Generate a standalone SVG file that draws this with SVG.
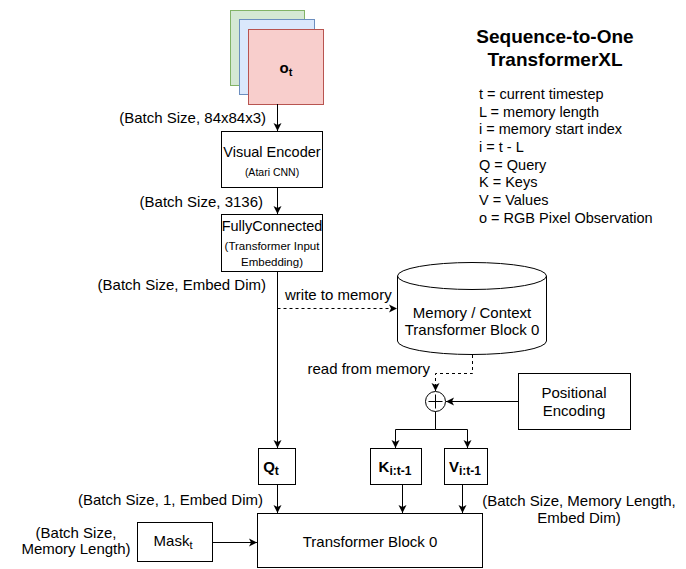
<svg xmlns="http://www.w3.org/2000/svg" width="686" height="569" viewBox="0 0 686 569">
<defs>
<marker id="arr" markerWidth="10" markerHeight="10" refX="8" refY="5" orient="auto" markerUnits="userSpaceOnUse">
<path d="M0,1 L8,5 L0,9 L2,5 Z" fill="#000"/>
</marker>
<style>
text{font-family:"Liberation Sans",Arial,sans-serif;fill:#000}
.box{fill:#fff;stroke:#000;stroke-width:1}
.t14{font-size:15px}
.tl{font-size:14.5px}
.t10{font-size:11.5px}
.t9{font-size:10.5px}
.b{font-weight:bold}
.mid{text-anchor:middle}
.end{text-anchor:end}
.line{fill:none;stroke:#000;stroke-width:1}
.dash{fill:none;stroke:#000;stroke-width:1;stroke-dasharray:3 3}
</style>
</defs>
<rect width="686" height="569" fill="#fff"/>

<g id="observation">
<rect x="230.5" y="10.5" width="74" height="75" fill="#d5e8d4" stroke="#82b366"/>
<rect x="239.5" y="19.5" width="75" height="75" fill="#dae8fc" stroke="#6c8ebf"/>
<rect x="248.5" y="29.5" width="75" height="75" fill="#f8cecc" stroke="#b85450"/>
<text x="286" y="73" class="t14 b mid">o<tspan font-size="11" dy="3">t</tspan></text>
</g>

<g id="visual-encoder">
<rect x="221.5" y="131.5" width="101" height="56" class="box"/>
<text x="272" y="157" class="tl mid">Visual Encoder</text>
<text x="272" y="176" class="t9 mid">(Atari CNN)</text>
</g>

<g id="fully-connected">
<rect x="221.5" y="214.5" width="101" height="57" class="box"/>
<text x="272" y="231" class="tl mid">FullyConnected</text>
<text x="272" y="250" class="t10 mid">(Transformer Input</text>
<text x="272" y="266" class="t10 mid">Embedding)</text>
</g>

<g id="memory">
<path d="M397.5,276 A74.5,13.5 0 0 1 546.5,276 L546.5,341 A74.5,13.5 0 0 1 397.5,341 Z" class="box"/>
<path d="M397.5,276 A74.5,13.5 0 0 0 546.5,276" class="line"/>
<text x="472" y="318" class="t14 mid">Memory / Context</text>
<text x="472" y="335" class="t14 mid">Transformer Block 0</text>
</g>

<g id="plus">
<circle cx="435.5" cy="401.5" r="10" class="box"/>
<path d="M428.5,401.5 H442.5 M435.5,394.5 V408.5" class="line"/>
</g>

<g id="positional-encoding">
<rect x="518.5" y="373.5" width="112" height="56" class="box"/>
<text x="574" y="398" class="t14 mid">Positional</text>
<text x="574" y="416" class="t14 mid">Encoding</text>
</g>

<g id="query">
<rect x="258.5" y="448.5" width="37" height="36" class="box"/>
<text x="271" y="472" class="t14 b mid">Q<tspan font-size="12" dy="3">t</tspan></text>
</g>

<g id="keys">
<rect x="370.5" y="448.5" width="51" height="36" class="box"/>
<text x="395" y="472" class="t14 b mid">K<tspan font-size="12" dy="3">i:t-1</tspan></text>
</g>

<g id="values">
<rect x="444.5" y="448.5" width="43" height="36" class="box"/>
<text x="465" y="472" class="t14 b mid">V<tspan font-size="12" dy="3">i:t-1</tspan></text>
</g>

<g id="mask">
<rect x="137.5" y="522.5" width="75" height="39" class="box"/>
<text x="173" y="546" class="t14 mid">Mask<tspan font-size="11" dy="3">t</tspan></text>
</g>

<g id="transformer-block">
<rect x="257.5" y="513.5" width="225" height="54" class="box"/>
<text x="370" y="547" class="t14 mid">Transformer Block 0</text>
</g>

<g id="connectors">
<path d="M277.5,104 V131" class="line" marker-end="url(#arr)"/>
<path d="M277.5,188 V214" class="line" marker-end="url(#arr)"/>
<path d="M277.5,272 V448" class="line" marker-end="url(#arr)"/>
<path d="M277.5,308.5 H397" class="dash" marker-end="url(#arr)"/>
<path d="M472.5,355 V373.5 H435.5 V391" class="dash" marker-end="url(#arr)"/>
<path d="M518,401.5 H446" class="line" marker-end="url(#arr)"/>
<path d="M435.5,411.5 V429.5 H395.5 V448" class="line" marker-end="url(#arr)"/>
<path d="M435.5,429.5 H467.5 V448" class="line" marker-end="url(#arr)"/>
<path d="M277.5,485 V513" class="line" marker-end="url(#arr)"/>
<path d="M402.5,485 V513" class="line" marker-end="url(#arr)"/>
<path d="M462.5,485 V513" class="line" marker-end="url(#arr)"/>
<path d="M213,542.5 H257" class="line" marker-end="url(#arr)"/>
</g>

<g id="labels">
<text x="266" y="123" class="t14 end">(Batch Size, 84x84x3)</text>
<text x="263" y="207" class="t14 end">(Batch Size, 3136)</text>
<text x="266" y="290" class="t14 end">(Batch Size, Embed Dim)</text>
<text x="285" y="300" class="t14">write to memory</text>
<text x="430" y="374" class="t14 end">read from memory</text>
<text x="263" y="505" class="t14 end">(Batch Size, 1, Embed Dim)</text>
<text x="76" y="538" class="t14 mid">(Batch Size,</text>
<text x="76" y="554" class="t14 mid">Memory Length)</text>
<text x="579" y="506" class="t14 mid">(Batch Size, Memory Length,</text>
<text x="579" y="523" class="t14 mid">Embed Dim)</text>
</g>

<g id="legend">
<text x="555" y="43" class="mid b" font-size="19">Sequence-to-One</text>
<text x="555" y="66" class="mid b" font-size="19">TransformerXL</text>
<text x="479" y="99" class="tl">t = current timestep</text>
<text x="479" y="117" class="tl">L = memory length</text>
<text x="479" y="134" class="tl">i = memory start index</text>
<text x="479" y="152" class="tl">i = t - L</text>
<text x="479" y="170" class="tl">Q = Query</text>
<text x="479" y="187" class="tl">K = Keys</text>
<text x="479" y="205" class="tl">V = Values</text>
<text x="479" y="223" class="tl">o = RGB Pixel Observation</text>
</g>
</svg>
